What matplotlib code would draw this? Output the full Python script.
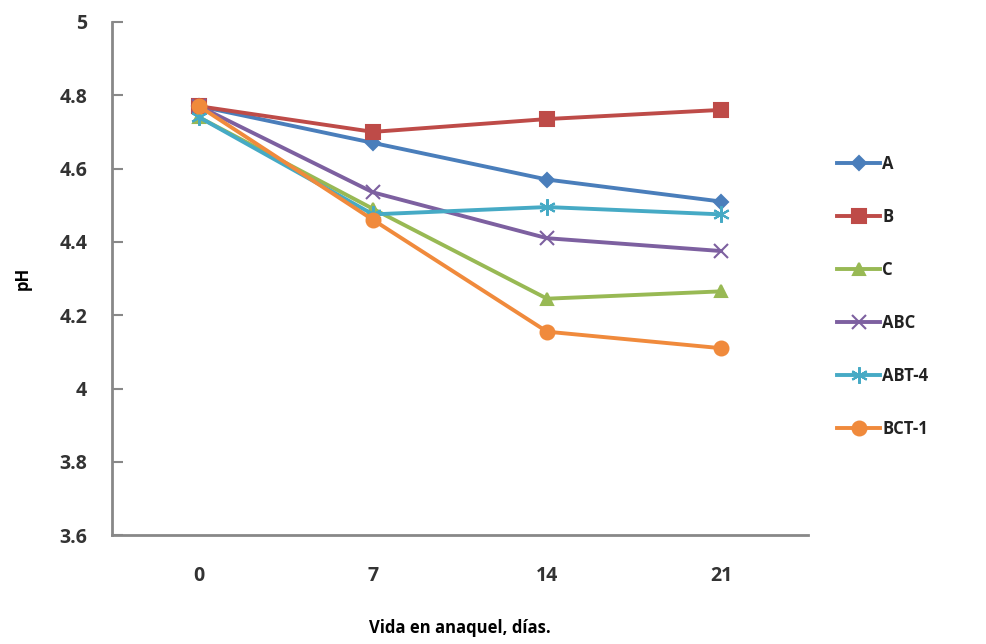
import matplotlib.pyplot as plt
import numpy as np

dias = ["0", "7", "14", "21"]
series = ["A", "B", "C", "ABC", "ABT-4", "BCT-1"]
ph_A = [4.77, 4.67, 4.57, 4.51]
ph_B = [4.77, 4.70, 4.735, 4.76]
ph_C = [4.74, 4.49, 4.245, 4.265]
ph_ABC = [4.77, 4.535, 4.41, 4.375]
ph_ABT4 = [4.74, 4.475, 4.495, 4.475]
ph_BCT1 = [4.77, 4.46, 4.155, 4.11]

valores = [ph_A, ph_B, ph_C, ph_ABC, ph_ABT4, ph_BCT1]
colores = ["#4A7EBB", "#BE4B48", "#98B954", "#7D60A0", "#46AAC5", "#F08A3C"]
marcas = ["D", "s", "^", "x", (6, 2, 0), "o"]
tam = [7, 10, 9, 10, 12, 10]

plt.rcParams["font.family"] = ["Open Sans", "DejaVu Sans"]

fig = plt.figure(figsize=(9.86, 6.44), dpi=100)
ax = fig.add_axes([0.1136, 0.169, 0.706, 0.797])

x = np.arange(len(dias))
for v, c, m, s, n in zip(valores, colores, marcas, tam, series):
    ax.plot(x, v, color=c, marker=m, markersize=s, linewidth=2.8, label=n,
            markeredgewidth=1.5)

ax.set_xlim(-0.5, 3.5)
ax.set_ylim(3.6, 5.0)
ax.set_yticks(np.arange(3.6, 5.01, 0.2))
ax.set_yticklabels(["3.6", "3.8", "4", "4.2", "4.4", "4.6", "4.8", "5"])
ax.set_xticks(x)
ax.set_xticklabels(dias)
ax.tick_params(axis="y", direction="in", length=8, color="#888888", width=1.5,
               labelsize=14, pad=18)
ax.tick_params(axis="x", length=0, labelsize=14, pad=22)
for lab in ax.get_xticklabels() + ax.get_yticklabels():
    lab.set_fontweight("bold")
    lab.set_color("#333333")
for sp in ["top", "right"]:
    ax.spines[sp].set_visible(False)
for sp in ["left", "bottom"]:
    ax.spines[sp].set_color("#888888")
    ax.spines[sp].set_linewidth(2)

ax.set_ylabel("pH", fontsize=12, fontweight="bold", labelpad=20)
ax.set_xlabel("Vida en anaquel, días.", fontsize=12, fontweight="bold", labelpad=24)

leg = ax.legend(loc="upper left", bbox_to_anchor=(1.02, 0.77), frameon=False,
                fontsize=12, labelspacing=2.1, handlelength=2.6, handletextpad=0.1)
for t in leg.get_texts():
    t.set_fontweight("bold")
    t.set_color("#222222")

fig.savefig("out.png", dpi=100)
